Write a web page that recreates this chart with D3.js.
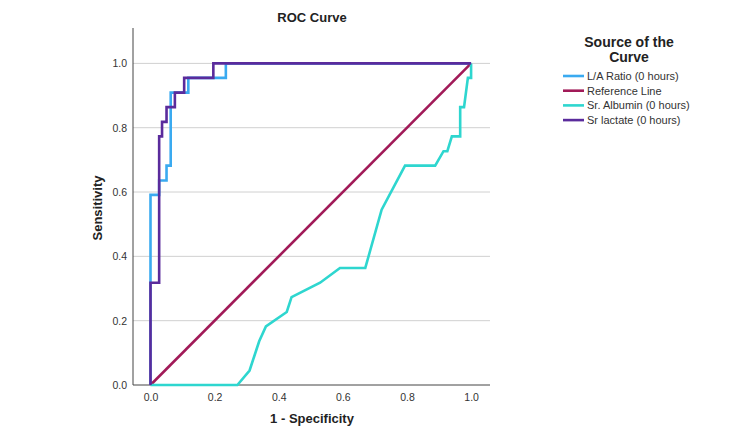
<!DOCTYPE html>
<html>
<head>
<meta charset="utf-8">
<script src="https://cdn.jsdelivr.net/npm/d3@7"></script>
<style>
	body { margin: 0; background: #fff; }
	svg { font-family: "Liberation Sans", Arial, sans-serif; }
	.grid line { stroke: #d0d0d0; stroke-width: 1; }
	.axis path, .axis line { stroke: #444; }
	.axis text { fill: #333; font-size: 10.5px; }
	.curve { fill: none; stroke-width: 2.6; stroke-linejoin: miter; }
</style>
</head>
<body>
<div id="chart"></div>
<script>
	// values: [1 - specificity, sensitivity]
	var laRatio = [[0, 0], [0, 0.591], [0.027, 0.591], [0.027, 0.636], [0.05, 0.636], [0.05, 0.682],
		[0.063, 0.682], [0.063, 0.909], [0.118, 0.909], [0.118, 0.955], [0.235, 0.955], [0.235, 1], [1, 1]];
	var referenceLine = [[0, 0], [1, 1]];
	var albumin = [[0, 0], [0.271, 0], [0.309, 0.045], [0.339, 0.136], [0.36, 0.182], [0.425, 0.227],
		[0.44, 0.273], [0.529, 0.318], [0.591, 0.364], [0.67, 0.364], [0.721, 0.545], [0.794, 0.682],
		[0.888, 0.682], [0.914, 0.727], [0.926, 0.727], [0.94, 0.773], [0.966, 0.773], [0.966, 0.864],
		[0.978, 0.864], [0.99, 0.955], [1, 0.955], [1, 1]];
	var lactate = [[0, 0], [0, 0.318], [0.027, 0.318], [0.027, 0.773], [0.036, 0.773], [0.036, 0.818],
		[0.05, 0.818], [0.05, 0.864], [0.076, 0.864], [0.076, 0.909], [0.105, 0.909], [0.105, 0.955],
		[0.196, 0.955], [0.196, 1], [1, 1]];

	var seriesNames = ["L/A Ratio (0 hours)", "Reference Line", "Sr. Albumin (0 hours)", "Sr lactate (0 hours)"];
	var seriesColours = ["#3aaaf0", "#a11a58", "#2ed6cf", "#5a2b9c"];
	var seriesData = [laRatio, referenceLine, albumin, lactate];
	var tickValues = [0, 0.2, 0.4, 0.6, 0.8, 1.0];

	var width = 750, height = 442;
	var plot = { left: 133, right: 490, top: 28, bottom: 385 };

	var svg = d3.select("#chart").append("svg")
		.attr("width", width)
		.attr("height", height);

	var x = d3.scaleLinear().domain([-0.0546, 1.059]).range([plot.left, plot.right]);
	var y = d3.scaleLinear().domain([0, 1.11]).range([plot.bottom, plot.top]);

	// grid lines
	svg.append("g")
		.attr("class", "grid")
		.selectAll("line")
		.data(tickValues.filter(function (d) { return d > 0; }))
		.enter().append("line")
		.attr("x1", plot.left)
		.attr("x2", plot.right)
		.attr("y1", function (d) { return y(d); })
		.attr("y2", function (d) { return y(d); });

	// axes
	svg.append("g")
		.attr("class", "axis axis--x")
		.attr("transform", "translate(0," + plot.bottom + ")")
		.call(d3.axisBottom(x).tickValues(tickValues).tickFormat(d3.format(".1f")).tickSize(0).tickPadding(9))
		.select(".domain").attr("d", "M" + plot.left + ",0H" + plot.right);

	svg.append("g")
		.attr("class", "axis axis--y")
		.attr("transform", "translate(" + plot.left + ",0)")
		.call(d3.axisLeft(y).tickValues(tickValues).tickFormat(d3.format(".1f")).tickSize(0).tickPadding(6))
		.select(".domain").attr("d", "M0," + plot.top + "V" + plot.bottom);

	// curves
	var line = d3.line()
		.x(function (d) { return x(d[0]); })
		.y(function (d) { return y(d[1]); });

	svg.append("g")
		.selectAll("path")
		.data(seriesData)
		.enter().append("path")
		.attr("class", "curve")
		.style("stroke", function (d, i) { return seriesColours[i]; })
		.attr("d", line);

	// titles
	svg.append("text")
		.attr("x", 312).attr("y", 22)
		.attr("text-anchor", "middle")
		.style("font-size", "13px").style("font-weight", "bold").style("fill", "#222")
		.text("ROC Curve");

	svg.append("text")
		.attr("x", 312).attr("y", 423)
		.attr("text-anchor", "middle")
		.style("font-size", "13px").style("font-weight", "bold").style("fill", "#222")
		.text("1 - Specificity");

	svg.append("text")
		.attr("transform", "translate(102,208) rotate(-90)")
		.attr("text-anchor", "middle")
		.style("font-size", "13px").style("font-weight", "bold").style("fill", "#222")
		.text("Sensitivity");

	// legend
	var legend = svg.append("g").attr("class", "legend");
	legend.append("text")
		.attr("x", 629).attr("y", 47)
		.attr("text-anchor", "middle")
		.style("font-size", "14px").style("font-weight", "bold").style("fill", "#222")
		.text("Source of the");
	legend.append("text")
		.attr("x", 629).attr("y", 62)
		.attr("text-anchor", "middle")
		.style("font-size", "14px").style("font-weight", "bold").style("fill", "#222")
		.text("Curve");

	var items = legend.selectAll(".item")
		.data(seriesNames)
		.enter().append("g")
		.attr("class", "item")
		.attr("transform", function (d, i) { return "translate(563," + (76 + i * 14.7) + ")"; });
	items.append("line")
		.attr("x1", 0).attr("x2", 21)
		.style("stroke", function (d, i) { return seriesColours[i]; })
		.style("stroke-width", 2.6);
	items.append("text")
		.attr("x", 24).attr("y", 4)
		.style("font-size", "11px").style("fill", "#333")
		.text(function (d) { return d; });
</script>
</body>
</html>
